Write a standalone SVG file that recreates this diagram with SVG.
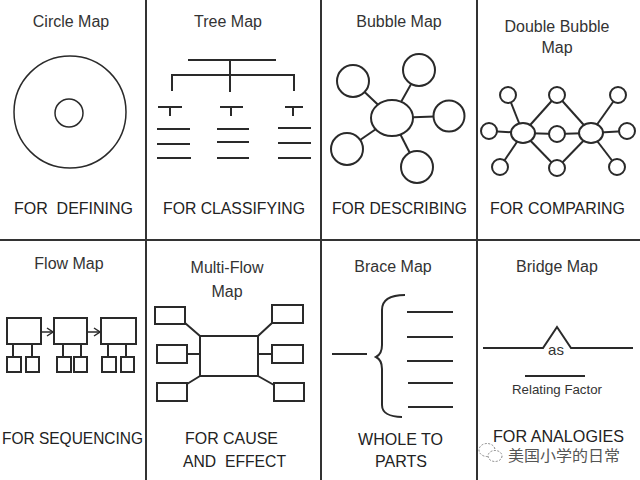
<svg xmlns="http://www.w3.org/2000/svg" width="640" height="480" viewBox="0 0 640 480">
<style>
.bg{fill:#fff}
.grid{stroke:#333;stroke-width:2;fill:none}
.ln{stroke:#2a2a2a;stroke-width:2;fill:none;stroke-linecap:butt}
.thin{stroke:#2a2a2a;stroke-width:1.5;fill:none}
.node{stroke:#2a2a2a;stroke-width:2;fill:#fff}
.title{font-family:"Liberation Sans",Arial,sans-serif;font-size:16px;fill:#333;text-anchor:middle}
.label{font-family:"Liberation Sans",Arial,sans-serif;font-size:17px;fill:#222}
.small{font-family:"Liberation Sans",Arial,sans-serif;font-size:13px;fill:#333;text-anchor:middle}
.wm{font-family:"Noto Sans CJK SC",sans-serif;font-size:15px;fill:#555;stroke:#fff;stroke-width:3;paint-order:stroke;stroke-linejoin:round}
</style>
<defs>
<marker id="arr" viewBox="0 0 8 10" refX="7" refY="5" markerWidth="8" markerHeight="10" markerUnits="userSpaceOnUse" orient="auto">
<path d="M1,1 L7,5 L1,9" fill="none" stroke="#2a2a2a" stroke-width="1.5"/>
</marker>
</defs>
<rect class="bg" x="0" y="0" width="640" height="480"/>
<g id="grid">
<line class="grid" x1="146" y1="0" x2="146" y2="480"/>
<line class="grid" x1="321" y1="0" x2="321" y2="480"/>
<line class="grid" x1="477" y1="0" x2="477" y2="480"/>
<line class="grid" x1="0" y1="240" x2="640" y2="240"/>
</g>

<g id="circle-map">
<text class="title" x="71" y="27">Circle Map</text>
<circle class="thin" cx="70" cy="112" r="56"/>
<circle class="thin" cx="69" cy="113" r="14"/>
<text class="label" x="14" y="214" textLength="119" lengthAdjust="spacingAndGlyphs" xml:space="preserve">FOR  DEFINING</text>
</g>

<g id="tree-map">
<text class="title" x="228" y="27">Tree Map</text>
<g class="ln">
<path d="M188,60 H276 M230,60 V92 M172,91 V75 H294 V91"/>
<path d="M158,107 H182 M170,107 V116 M220,107 H243 M231,107 V116 M285,107 H303 M293,107 V116"/>
<path d="M157,129 H190 M157,144 H190 M157,158 H191"/>
<path d="M217,129 H249 M217,142 H249 M217,158 H249"/>
<path d="M278,128 H311 M278,143 H311 M278,158 H311"/>
</g>
<text class="label" x="163" y="214" textLength="142" lengthAdjust="spacingAndGlyphs">FOR CLASSIFYING</text>
</g>

<g id="bubble-map">
<text class="title" x="399" y="27">Bubble Map</text>
<g class="ln">
<line x1="392" y1="118" x2="353" y2="81"/>
<line x1="392" y1="118" x2="419" y2="70"/>
<line x1="392" y1="118" x2="449" y2="116"/>
<line x1="392" y1="118" x2="347" y2="149"/>
<line x1="392" y1="118" x2="417" y2="167"/>
</g>
<ellipse class="node" cx="392" cy="118" rx="21" ry="18"/>
<circle class="node" cx="353" cy="81" r="16"/>
<circle class="node" cx="419" cy="70" r="16"/>
<circle class="node" cx="449" cy="116" r="15.5"/>
<circle class="node" cx="347" cy="149" r="16"/>
<circle class="node" cx="417" cy="167" r="16"/>
<text class="label" x="332" y="214" textLength="135" lengthAdjust="spacingAndGlyphs">FOR DESCRIBING</text>
</g>

<g id="double-bubble-map">
<text class="title" x="557" y="32">Double Bubble</text>
<text class="title" x="557" y="53">Map</text>
<g class="ln">
<line x1="523" y1="133" x2="508" y2="95"/>
<line x1="523" y1="133" x2="489" y2="131"/>
<line x1="523" y1="133" x2="500" y2="167"/>
<line x1="523" y1="133" x2="557" y2="95"/>
<line x1="523" y1="133" x2="557" y2="134"/>
<line x1="523" y1="133" x2="557" y2="168"/>
<line x1="591" y1="133" x2="557" y2="95"/>
<line x1="591" y1="133" x2="557" y2="134"/>
<line x1="591" y1="133" x2="557" y2="168"/>
<line x1="591" y1="133" x2="618" y2="95"/>
<line x1="591" y1="133" x2="627" y2="131"/>
<line x1="591" y1="133" x2="617" y2="167"/>
</g>
<ellipse class="node" cx="523" cy="133" rx="12" ry="10"/>
<ellipse class="node" cx="591" cy="133" rx="12" ry="10"/>
<circle class="node" cx="508" cy="95" r="8"/>
<circle class="node" cx="489" cy="131" r="8"/>
<circle class="node" cx="500" cy="167" r="8"/>
<circle class="node" cx="557" cy="95" r="8"/>
<circle class="node" cx="557" cy="134" r="8"/>
<circle class="node" cx="557" cy="168" r="8"/>
<circle class="node" cx="618" cy="95" r="8"/>
<circle class="node" cx="627" cy="131" r="8"/>
<circle class="node" cx="617" cy="167" r="8"/>
<text class="label" x="490" y="214" textLength="135" lengthAdjust="spacingAndGlyphs">FOR COMPARING</text>
</g>

<g id="flow-map">
<text class="title" x="69" y="269">Flow Map</text>
<g class="ln">
<rect x="7" y="318" width="34" height="26"/>
<rect x="54" y="318" width="33" height="26"/>
<rect x="101" y="318" width="35" height="26"/>
<path d="M13,344 V357 M32,344 V357 M63,344 V357 M81,344 V357 M108,344 V357 M126,344 V357"/>
<rect x="7" y="357" width="14" height="15"/>
<rect x="26" y="357" width="13" height="15"/>
<rect x="57" y="357" width="14" height="15"/>
<rect x="74" y="357" width="13" height="15"/>
<rect x="102" y="357" width="14" height="15"/>
<rect x="121" y="357" width="13" height="15"/>
</g>
<g class="thin">
<line x1="41" y1="332" x2="53" y2="332" marker-end="url(#arr)"/>
<line x1="87" y1="332" x2="100" y2="332" marker-end="url(#arr)"/>
</g>
<text class="label" x="2" y="444" textLength="141" lengthAdjust="spacingAndGlyphs">FOR SEQUENCING</text>
</g>

<g id="multi-flow-map">
<text class="title" x="227" y="273">Multi-Flow</text>
<text class="title" x="227" y="297">Map</text>
<g class="ln">
<rect x="200" y="336" width="58" height="40"/>
<rect x="155" y="307" width="30" height="17"/>
<rect x="157" y="345" width="30" height="18"/>
<rect x="157" y="383" width="30" height="18"/>
<rect x="272" y="305" width="31" height="18"/>
<rect x="272" y="345" width="31" height="18"/>
<rect x="274" y="383" width="30" height="18"/>
<path d="M185,323 L200,336 M187,354 H200 M187,384 L200,376 M258,336 L272,323 M258,354 H272 M258,376 L274,385"/>
</g>
<text class="label" x="185" y="444" textLength="93" lengthAdjust="spacingAndGlyphs">FOR CAUSE</text>
<text class="label" x="183" y="467" textLength="103" lengthAdjust="spacingAndGlyphs" xml:space="preserve">AND  EFFECT</text>
</g>

<g id="brace-map">
<text class="title" x="393" y="272">Brace Map</text>
<g class="ln">
<line x1="332" y1="354" x2="367" y2="354"/>
<path d="M405,295 C390,295 382,300 382,310 L382,345 C382,352 380,355 376,357 C380,359 382,362 382,369 L382,405 C382,413 390,417 402,417"/>
<path d="M407,312 H453 M407,337 H453 M407,361 H453 M408,383 H453 M408,407 H453"/>
</g>
<text class="label" x="358" y="445" textLength="85" lengthAdjust="spacingAndGlyphs">WHOLE TO</text>
<text class="label" x="375" y="467" textLength="52" lengthAdjust="spacingAndGlyphs">PARTS</text>
</g>

<g id="bridge-map">
<text class="title" x="557" y="272">Bridge Map</text>
<g class="ln">
<path d="M483,348 H543 L557,327 L571,348 H633"/>
<line x1="525" y1="376" x2="585" y2="376"/>
</g>
<text class="small" x="556" y="355" style="font-size:15px">as</text>
<text class="small" x="557" y="394" textLength="90" lengthAdjust="spacingAndGlyphs">Relating Factor</text>
<text class="label" x="493" y="442" textLength="131" lengthAdjust="spacingAndGlyphs">FOR ANALOGIES</text>
</g>

<g id="watermark">
<g fill="#fff" stroke="#888" stroke-width="1" stroke-dasharray="2 1.5">
<ellipse cx="487" cy="450" rx="8" ry="6.5"/>
<ellipse cx="495" cy="456" rx="7" ry="5.5"/>
</g>
<text class="wm" x="508" y="461" textLength="112" lengthAdjust="spacingAndGlyphs">美国小学的日常</text>
</g>
</svg>
